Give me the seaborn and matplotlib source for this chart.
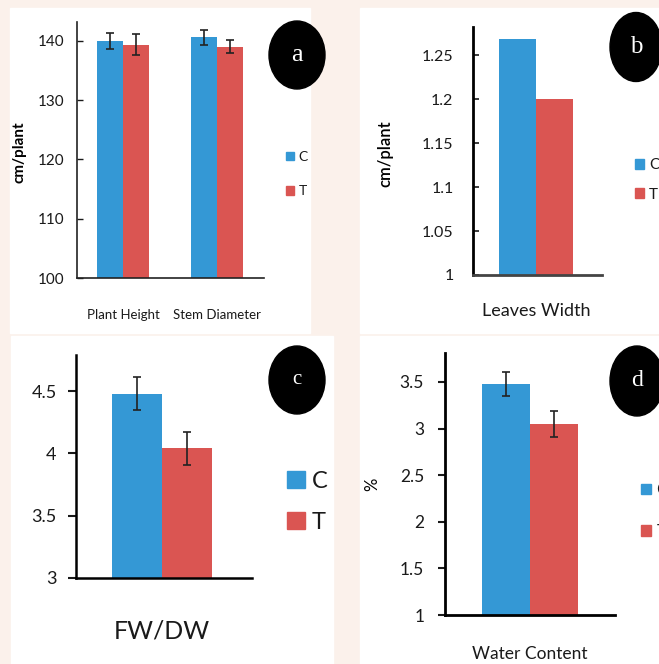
"""
Four-panel bar chart: control (C) vs treatment (T)
"""

import pandas as pd
import matplotlib
matplotlib.use('Agg')
import matplotlib.pyplot as plt
import seaborn as sns
from matplotlib.patches import Rectangle, Ellipse
from matplotlib.ticker import FuncFormatter


# =============================================================================
# DATA
# =============================================================================

GROUPS = ['C', 'T']

A_TRAITS = ['Plant Height', 'Stem Diameter']
A_C = [140.0, 140.6]
A_T = [139.4, 139.0]
A_C_ERR = [1.3, 1.3]
A_T_ERR = [1.75, 1.1]

B_TRAITS = ['Leaves Width']
B_C = [1.268]
B_T = [1.20]

C_TRAITS = ['FW/DW']
C_C = [4.48]
C_T = [4.04]
C_C_ERR = [0.135]
C_T_ERR = [0.135]

D_TRAITS = ['Water Content']
D_C = [3.48]
D_T = [3.05]
D_C_ERR = [0.13]
D_T_ERR = [0.14]

COLORS = {'C': '#3498D5', 'T': '#DA5552'}
BG = '#FBF1EB'
TXT = '#1a1a1a'
W, H = 659, 664


def fx(x):
    return x / W


def fy(y):
    return 1 - y / H


def ax_rect(left, top, right, bottom):
    return [fx(left), fy(bottom), (right - left) / W, (bottom - top) / H]


# =============================================================================
# DRAWING
# =============================================================================

def draw_panel(ax, traits, c_vals, t_vals, c_err=None, t_err=None, width=0.56):
    df = pd.DataFrame({
        'trait': traits * 2,
        'group': ['C'] * len(traits) + ['T'] * len(traits),
        'value': c_vals + t_vals,
    })
    sns.barplot(data=df, x='trait', y='value', hue='group', hue_order=GROUPS,
                palette=COLORS, width=width, saturation=1, errorbar=None,
                legend=False, ax=ax, zorder=2)
    if c_err is not None:
        for cont, errs in zip(ax.containers, [c_err, t_err]):
            for bar, e in zip(cont, errs):
                ax.errorbar(bar.get_x() + bar.get_width() / 2, bar.get_height(),
                            yerr=e, fmt='none', ecolor='#222222',
                            elinewidth=1.2, capsize=3, capthick=1.2, zorder=3)
    ax.set_facecolor('white')
    for side in ['top', 'right']:
        ax.spines[side].set_visible(False)
    ax.set_xlabel('')
    ax.set_ylabel('')


def add_legend(ax, x, y, fontsize, size, spacing):
    handles = [Rectangle((0, 0), 1, 1, color=COLORS[g]) for g in GROUPS]
    ax.legend(handles, GROUPS, loc='center left', bbox_to_anchor=(fx(x), fy(y)),
              bbox_transform=ax.figure.transFigure, frameon=False,
              fontsize=fontsize, handlelength=size, handleheight=size,
              handletextpad=0.3, labelspacing=spacing, borderpad=0,
              borderaxespad=0)


def add_badge(fig, letter, cx, cy, w, h, fontsize):
    fig.add_artist(Ellipse((fx(cx), fy(cy)), w / W, h / H, color='black',
                           transform=fig.transFigure, zorder=5))
    fig.text(fx(cx), fy(cy), letter, color='white', fontsize=fontsize,
             family='Liberation Serif', ha='center', va='center', zorder=6)


plt.rcParams['font.family'] = ['Lato', 'DejaVu Sans']
plt.rcParams['text.color'] = TXT
plt.rcParams['xtick.color'] = TXT
plt.rcParams['ytick.color'] = TXT

fig = plt.figure(figsize=(W / 100, H / 100), dpi=100, facecolor=BG)

# white panel backgrounds
for (l, t, r, b) in [(10, 8, 310, 333), (360, 8, 659, 333),
                     (11, 336, 333, 664), (360, 336, 659, 664)]:
    fig.add_artist(Rectangle((fx(l), fy(b)), (r - l) / W, (b - t) / H,
                             color='white', transform=fig.transFigure, zorder=0))

fmt = FuncFormatter(lambda v, p: f'{v:g}')

# ---- panel a ----
ax_a = fig.add_axes(ax_rect(77, 22, 264, 278))
draw_panel(ax_a, A_TRAITS, A_C, A_T, A_C_ERR, A_T_ERR, width=0.56)
ax_a.set_ylim(100, 143.2)
ax_a.set_xlim(-0.49, 1.5)
ax_a.set_yticks([100, 110, 120, 130, 140])
ax_a.yaxis.set_major_formatter(fmt)
ax_a.tick_params(axis='y', direction='in', length=4, width=1, pad=9, labelsize=11)
ax_a.tick_params(axis='x', length=0, pad=22, labelsize=9.5)
for s in ['left', 'bottom']:
    ax_a.spines[s].set_linewidth(1.2)
    ax_a.spines[s].set_color('#222222')
ax_a.set_ylabel('cm/plant', fontsize=11, fontweight='bold')
ax_a.yaxis.set_label_coords(-0.27, 0.49)
add_legend(ax_a, 286, 174, fontsize=10, size=0.6, spacing=1.6)
add_badge(fig, 'a', 297, 55, 56, 68, 19)

# ---- panel b ----
ax_b = fig.add_axes(ax_rect(473, 27, 602, 275))
draw_panel(ax_b, B_TRAITS, B_C, B_T, width=0.575)
ax_b.set_ylim(1, 1.282)
ax_b.set_xlim(-0.49, 0.51)
ax_b.set_yticks([1, 1.05, 1.1, 1.15, 1.2, 1.25])
ax_b.yaxis.set_major_formatter(fmt)
ax_b.tick_params(axis='y', direction='in', length=4, width=1.2, pad=14, labelsize=11.5)
ax_b.tick_params(axis='x', length=0, pad=20, labelsize=13)
for s in ['left', 'bottom']:
    ax_b.spines[s].set_linewidth(2)
ax_b.spines['bottom'].set_color('#444444')
ax_b.set_ylabel('cm/plant', fontsize=12, fontweight='semibold')
ax_b.yaxis.set_label_coords(-0.62, 0.49)
add_legend(ax_b, 635, 180, fontsize=11, size=0.6, spacing=1.0)
add_badge(fig, 'b', 636, 47, 52, 69, 18)

# ---- panel c ----
ax_c = fig.add_axes(ax_rect(76, 355, 252, 578))
draw_panel(ax_c, C_TRAITS, C_C, C_T, C_C_ERR, C_T_ERR, width=0.57)
ax_c.set_ylim(3, 4.79)
ax_c.set_xlim(-0.49, 0.51)
ax_c.set_yticks([3, 3.5, 4, 4.5])
ax_c.yaxis.set_major_formatter(fmt)
ax_c.tick_params(axis='y', direction='out', length=6, width=1.5, pad=8, labelsize=13)
ax_c.tick_params(axis='x', length=0, pad=30, labelsize=18)
for s in ['left', 'bottom']:
    ax_c.spines[s].set_linewidth(1.8)
add_legend(ax_c, 287, 502, fontsize=17, size=0.75, spacing=0.85)
add_badge(fig, 'c', 297, 380, 56, 68, 15)

# ---- panel d ----
ax_d = fig.add_axes(ax_rect(445, 353, 615, 615))
draw_panel(ax_d, D_TRAITS, D_C, D_T, D_C_ERR, D_T_ERR, width=0.565)
ax_d.set_ylim(1, 3.81)
ax_d.set_xlim(-0.5, 0.5)
ax_d.set_yticks([1, 1.5, 2, 2.5, 3, 3.5])
ax_d.yaxis.set_major_formatter(fmt)
ax_d.tick_params(axis='y', direction='out', length=5, width=1.5, pad=10, labelsize=12.5)
ax_d.tick_params(axis='x', length=0, pad=22, labelsize=12.5)
for s in ['left', 'bottom']:
    ax_d.spines[s].set_linewidth(2)
ax_d.set_ylabel('%', fontsize=12)
ax_d.yaxis.set_label_coords(-0.38, 0.5)
add_legend(ax_d, 641, 511, fontsize=13, size=0.55, spacing=1.4)
add_badge(fig, 'd', 637, 381, 54, 70, 17)

plt.savefig('out.png', dpi=100, facecolor=BG)
plt.close()
